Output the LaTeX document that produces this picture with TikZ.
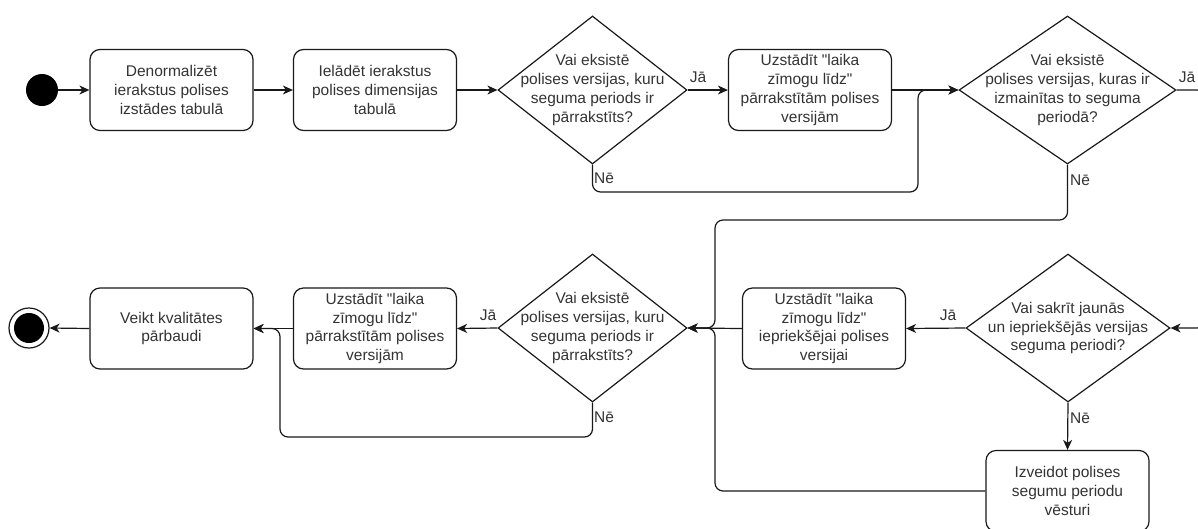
\documentclass[tikz,border=0pt]{standalone}
\usepackage{fontspec}
\setmainfont{Liberation Sans}
\usetikzlibrary{shapes.geometric,arrows.meta}

\newcommand{\dq}{\textquotedbl}

\begin{document}
\begin{tikzpicture}[x=1pt,y=-1pt,
  font=\fontsize{15.5}{18.8}\selectfont,
  act/.style={draw=black!90, line width=1.2pt, rectangle, rounded corners=10pt,
    minimum width=163pt, minimum height=81pt, inner sep=0pt, align=center, text=black!80},
  decision/.style={draw=black!90, line width=1.2pt, diamond, inner sep=0pt,
    minimum height=148pt},
  dtext/.style={align=center, inner sep=0pt, text=black!80},
  lbl/.style={inner sep=0pt, text=black!80},
  flow/.style={draw=black!90, line width=1.2pt, rounded corners=8pt,
    -{Stealth[length=10pt,width=9pt,inset=3pt]}},
  startnode/.style={circle, fill=black, minimum size=32pt, inner sep=0pt},
  stopnode/.style={circle, draw=black!90, line width=1.2pt, fill=white,
    minimum size=40pt, inner sep=0pt,
    path picture={\fill[black] (path picture bounding box.center) circle (15pt);}}
]
\clip (0,0) rectangle (1198,528);

% upper row
\node[startnode] (start) at (42,90) {};
\node[act] (denorm) at (171.5,90) {Denormalizēt\\ierakstus polises\\izstādes tabulā};
\node[act] (load) at (375,90) {Ielādēt ierakstus\\polises dimensijas\\tabulā};
\node[decision, minimum width=189pt] (q1) at (592.5,90) {};
\node[dtext] (q1t) at (q1) {Vai eksistē\\polises versijas, kuru\\seguma periods ir\\pārrakstīts?};
\node[act] (stamp1) at (810,90) {Uzstādīt \dq laika\\zīmogu līdz\dq\\pārrakstītām polises\\versijām};
\node[decision, minimum width=217pt] (q2) at (1067.5,90) {};
\node[dtext] (q2t) at (q2) {Vai eksistē\\polises versijas, kuras ir\\izmainītas to seguma\\periodā?};

% lower row
\node[decision, minimum width=204pt] (q3) at (1068,328) {};
\node[dtext] (q3t) at (q3) {Vai sakrīt jaunās\\un iepriekšējās versijas\\seguma periodi?};
\node[act] (stamp2) at (824,328.5) {Uzstādīt \dq laika\\zīmogu līdz\dq\\iepriekšējai polises\\versijai};
\node[act] (hist) at (1067.5,491) {Izveidot polises\\segumu periodu\\vēsturi};
\node[decision, minimum width=189pt] (q4) at (592.5,328) {};
\node[dtext] (q4t) at (q4) {Vai eksistē\\polises versijas, kuru\\seguma periods ir\\pārrakstīts?};
\node[act] (stamp3) at (375,328.5) {Uzstādīt \dq laika\\zīmogu līdz\dq\\pārrakstītām polises\\versijām};
\node[act] (check) at (171.5,328.5) {Veikt kvalitātes\\pārbaudi};
\node[stopnode] (stop) at (29,328) {};

% bend points of the routed connectors
\coordinate (q1down) at (592.5,192);
\coordinate (merge1) at (918,90);
\coordinate (q2down) at (1067.5,220);
\coordinate (laneL) at (715,220);
\coordinate (merge2) at (715,328);
\coordinate (histL) at (715,491);
\coordinate (q2out) at (1205,90);
\coordinate (q2in) at (1205,328);
\coordinate (q4down) at (592.5,437);
\coordinate (backL) at (280,437);
\coordinate (merge3) at (280,328.5);

% connectors, upper row
\draw[flow] (start) -- (denorm);
\draw[flow] (denorm) -- (load);
\draw[flow] (load) -- (q1.west);
\draw[flow] (q1.east) -- (stamp1.west);
\draw[flow] (stamp1.east) -- (q2.west);
\draw[flow] (q1.south) -- (q1down) -| (merge1) -- (q2.west);
\draw[flow] (q2.east) -- (q2out) -- (q2in) -- (q3.east);
\draw[flow] (q2.south) -- (q2down) -- (laneL) -- (merge2) -- (q4.east);

% connectors, lower row
\draw[flow] (q3.west) -- (stamp2.east);
\draw[flow] (q3.south) -- (hist.north);
\draw[flow] (stamp2.west) -- (q4.east);
\draw[flow] (hist.west) -- (histL) -- (merge2) -- (q4.east);
\draw[flow] (q4.west) -- (stamp3.east);
\draw[flow] (stamp3.west) -- (check.east);
\draw[flow] (q4.south) -- (q4down) -- (backL) -- (merge3) -- (check.east);
\draw[flow] (check.west) -- (stop.east);

% branch labels
\node[lbl] (y1) at (698,77) {Jā};
\node[lbl] (n1) at (604,178) {Nē};
\node[lbl] (y2) at (1187,77) {Jā};
\node[lbl] (n2) at (1080,180) {Nē};
\node[lbl] (y3) at (948,315) {Jā};
\node[lbl] (n3) at (1080,418) {Nē};
\node[lbl] (y4) at (488,315) {Jā};
\node[lbl] (n4) at (604,417) {Nē};
\end{tikzpicture}
\end{document}
